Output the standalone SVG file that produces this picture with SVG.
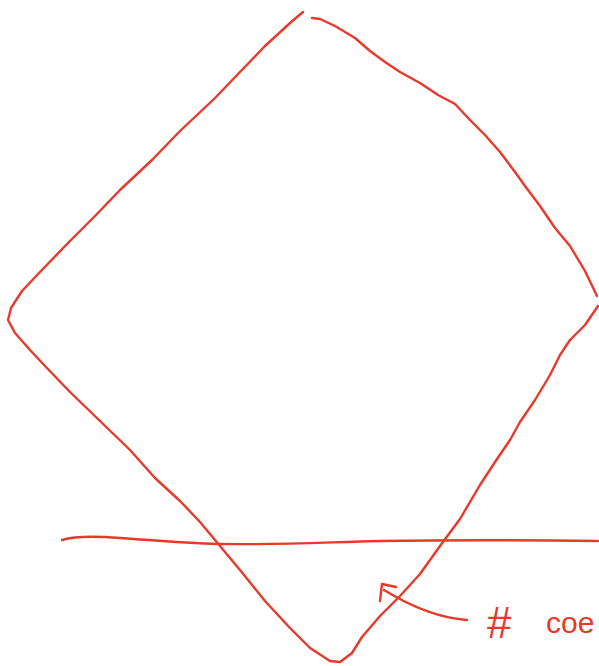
<svg xmlns="http://www.w3.org/2000/svg" width="599" height="666" viewBox="0 0 599 666">
<style>
.s{fill:none;stroke:#e8392a;stroke-width:2.4;stroke-linecap:round;stroke-linejoin:round}
.t{fill:#e8392a;font-family:"Liberation Sans",sans-serif}
</style>
<rect width="599" height="666" fill="#fff"/>
<g id="diamond">
<path class="s" d="M303,12 L290,23 L265,46 L240,72 L215,98 L180,131 L152,160 L120,190 L95,216 L68,243 L40,272 L22,291 L11,308 L8,320 L15,333 L30,350 L45,366 L70,392 L100,421 L130,450 L155,478 L180,501 L200,522 L220,546 L240,570 L265,601 L290,628 L310,648 L330,661 L340,662 L352,653 L362,637 L380,616 L400,596 L420,574 L440,546 L460,519 L480,485 L495,462 L510,440 L520,422 L535,400 L550,375 L560,355 L570,340 L585,325 L598,306"/>
<path class="s" d="M312,18 L320,19 L335,26 L355,38 L370,51 L385,62 L400,72 L420,83 L438,95 L455,104 L470,120 L485,135 L500,152 L515,172 L525,186 L540,206 L555,228 L570,246 L585,271 L597,296"/>
</g>
<g id="line">
<path class="s" d="M62,540 C75,536 95,536 120,538 C150,540 180,543 220,544 C280,545 330,542 380,541 C450,540 520,540 598,541"/>
</g>
<g id="connectors">
<path class="s" d="M467,620 C440,618 410,606 384,590"/>
<path class="s" d="M380,601 L382,584 L396,587"/>
</g>
<g id="label">
<text class="t" x="487" y="638" font-size="44">#</text>
<text class="t" x="546" y="633" font-size="30">coe</text>
</g>
</svg>
